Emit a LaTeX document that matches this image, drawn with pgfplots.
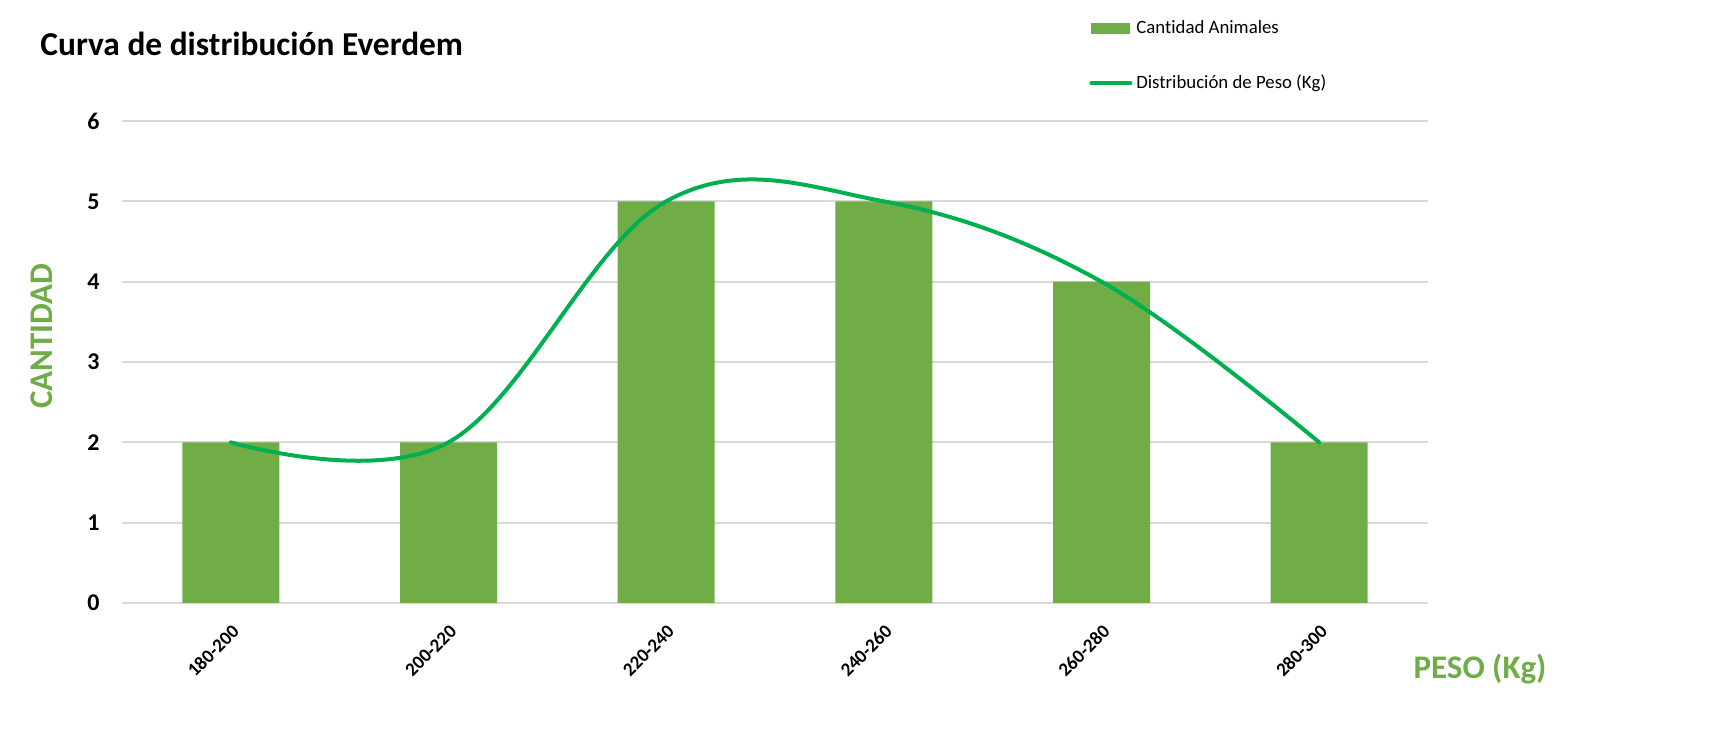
\documentclass[border=0pt]{standalone}
\usepackage{pgfplots}
\pgfplotsset{compat=1.18}
\usepackage{fontspec}
\setmainfont{Carlito}[Ligatures={NoCommon}]
\definecolor{barg}{HTML}{70AD47}
\definecolor{lineg}{HTML}{00B050}
\definecolor{gridc}{HTML}{D9D9D9}
\begin{document}
\begin{tikzpicture}
\path[use as bounding box] (0,0) rectangle (863pt,372pt);
\begin{axis}[
  at={(61pt,70.5pt)}, anchor=south west,
  scale only axis,
  width=653pt, height=241pt,
  xmin=-0.5, xmax=5.5, ymin=0, ymax=6,
  xtick={0,1,2,3,4,5},
  xticklabels={180-200,200-220,220-240,240-260,260-280,280-300},
  ytick={0,1,2,3,4,5,6},
  axis line style={draw=none},
  major tick length=0pt,
  ymajorgrids, grid style={gridc, line width=0.9pt},
  /pgf/number format/assume math mode=true,
  yticklabel style={font=\fontsize{12}{14}\selectfont\bfseries, inner sep=0pt, anchor=east, xshift=-11pt},
  xticklabel style={font=\fontsize{9.5}{11}\selectfont\bfseries, inner sep=0pt, xshift=2.5pt, yshift=-12.5pt, rotate=45, anchor=east},
  clip=false,
  legend style={at={(rel axis cs:0.7404,1.217)}, anchor=north west, draw=none, fill=none,
    font=\fontsize{9.4}{11}\selectfont, inner sep=0pt, row sep=15pt,
    /tikz/every even column/.append style={column sep=2pt}},
  legend cell align=left,
]
\addplot[ybar, bar width=48.5pt, fill=barg, draw=none, bar shift=0pt,
  legend image code/.code={\fill[barg] (0pt,-2.75pt) rectangle (19.5pt,2.75pt);}]
  coordinates {(0,2) (1,2) (2,5) (3,5) (4,4) (5,2)};
\addlegendentry{Cantidad Animales}
\addplot[lineg, line width=2pt, smooth, tension=0.62, line cap=round,
  legend image code/.code={\draw[lineg, line width=2pt, line cap=round] (0pt,0pt) -- (19.5pt,0pt);}]
  coordinates {(0,2) (1,2) (2,5) (3,5) (4,4) (5,2)};
\addlegendentry{Distribución de Peso (Kg)}
\end{axis}
\node[anchor=west, inner sep=0pt, font=\fontsize{16.7}{20}\selectfont\bfseries] at (20pt,350pt) {Curva de distribución Everdem};
\node[anchor=center, inner sep=0pt, rotate=90, text=barg, font=\fontsize{16.5}{20}\selectfont\bfseries] at (21pt,204pt) {CANTIDAD};
\node[anchor=center, inner sep=0pt, text=barg, font=\fontsize{16.5}{20}\selectfont\bfseries] at (740pt,37.5pt) {PESO (Kg)};
\end{tikzpicture}
\end{document}
